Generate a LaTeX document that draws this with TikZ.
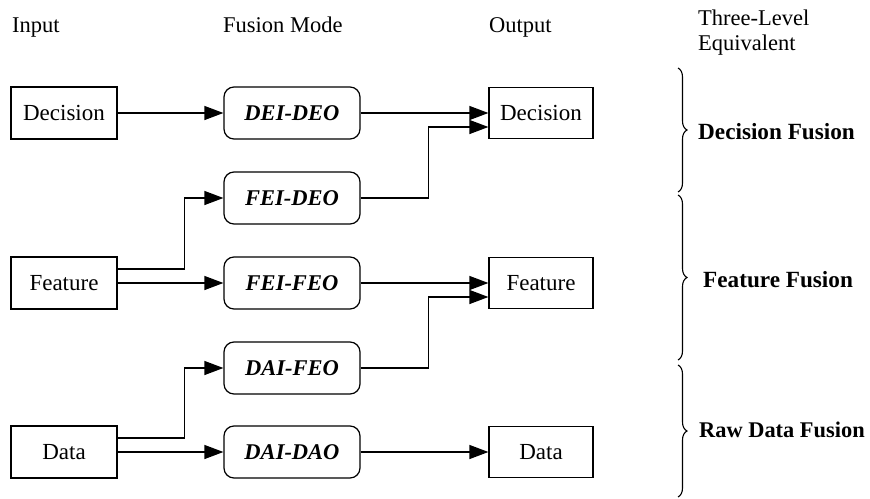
\documentclass[tikz,border=0pt]{standalone}
\usepackage{fontspec}
\setmainfont{Liberation Serif}
\usetikzlibrary{arrows.meta,calc,decorations.pathreplacing}
\tikzset{
  every node/.style={font=\fontsize{23}{26}\selectfont},
  inbox/.style={draw, line width=1.2pt, minimum width=106pt, minimum height=52pt, inner sep=0pt},
  outbox/.style={draw, line width=1.2pt, minimum width=104pt, minimum height=51pt, inner sep=0pt},
  modebox/.style={draw, line width=1.2pt, rounded corners=10pt, minimum width=136pt, minimum height=52pt, inner sep=0pt, font=\fontsize{22.5}{26}\selectfont\bfseries\itshape},
  arr/.style={line width=1.2pt, -{Triangle[length=19pt,width=14pt]}},
  head/.style={anchor=base west, inner sep=0pt, font=\fontsize{22.5}{25}\selectfont},
  level/.style={anchor=base west, inner sep=0pt, font=\fontsize{23.2}{26}\selectfont\bfseries},
  lbrace/.style={line width=1.1pt, decorate, decoration={brace, amplitude=9pt}}
}
\begin{document}
\begin{tikzpicture}[x=1pt,y=-1pt]
\useasboundingbox (0,0) rectangle (870,498);

% column headings
\node[head] (hIn) at (12,32) {Input};
\node[head] (hMode) at (223,32) {Fusion Mode};
\node[head] (hOut) at (489,32) {Output};
\node[head] (hLev) at (698,25) {Three-Level};
\node[head] (hLev2) at (698,50) {Equivalent};

% inputs
\node[inbox] (inDec) at (64,113) {Decision};
\node[inbox] (inFeat) at (64,283) {Feature};
\node[inbox] (inData) at (64,452) {Data};

% fusion modes
\node[modebox] (mDD) at (292,113) {DEI-DEO};
\node[modebox] (mFD) at (292,198) {FEI-DEO};
\node[modebox] (mFF) at (292,283) {FEI-FEO};
\node[modebox] (mDF) at (292,368) {DAI-FEO};
\node[modebox] (mDA) at (292,452) {DAI-DAO};

% outputs
\node[outbox] (outDec) at (541,113) {Decision};
\node[outbox] (outFeat) at (541,283) {Feature};
\node[outbox] (outData) at (541,452) {Data};

% input to mode
\draw[arr] (inDec) -- (mDD);
\draw[arr] ($(inFeat.east)+(0,-14)$) -- ++(67,0) |- (mFD.west);
\draw[arr] (inFeat) -- (mFF);
\draw[arr] ($(inData.east)+(0,-14)$) -- ++(67,0) |- (mDF.west);
\draw[arr] (inData) -- (mDA);

% mode to output
\draw[arr] (mDD) -- (outDec);
\draw[arr] (mFD.east) -- ++(68,0) |- ($(outDec.west)+(0,14)$);
\draw[arr] (mFF) -- (outFeat);
\draw[arr] (mDF.east) -- ++(68,0) |- ($(outFeat.west)+(0,14)$);
\draw[arr] (mDA) -- (outData);

% three-level equivalents
\coordinate (b1t) at (678,68);  \coordinate (b1b) at (678,192);
\coordinate (b2t) at (678,195); \coordinate (b2b) at (678,360);
\coordinate (b3t) at (678,365); \coordinate (b3b) at (678,497);
\draw[lbrace] (b1t) -- (b1b);
\draw[lbrace] (b2t) -- (b2b);
\draw[lbrace] (b3t) -- (b3b);
\node[level] (lDec) at (698,139) {Decision Fusion};
\node[level] (lFeat) at (703,287) {Feature Fusion};
\node[level, font=\fontsize{22.4}{26}\selectfont\bfseries] (lRaw) at (699,437) {Raw Data Fusion};
\end{tikzpicture}
\end{document}
